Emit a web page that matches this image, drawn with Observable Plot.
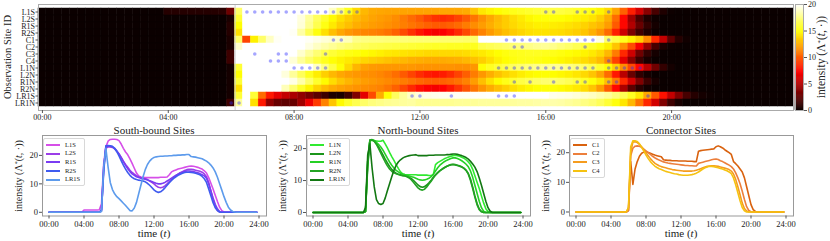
<!DOCTYPE html>
<html><head><meta charset="utf-8">
<script src="https://cdn.jsdelivr.net/npm/d3@7"></script>
<script src="https://cdn.jsdelivr.net/npm/@observablehq/plot@0.6"></script>
<style>
body{margin:0;background:#fff;}
#root{position:relative;width:830px;height:241px;overflow:hidden;font-family:"Liberation Serif","DejaVu Serif",serif;color:#222;}
#root svg{position:absolute;overflow:visible;}
.lbl{position:absolute;white-space:nowrap;line-height:1;}
.legend{position:absolute;background:rgba(255,255,255,0.9);border:1px solid #d8d8d8;border-radius:2px;padding:1.5px 4px 1.5px 2px;box-sizing:border-box;}
.lrow{display:flex;align-items:center;height:8.7px;}
.sw{width:14px;height:2px;}
.lt{margin-left:5px;font-size:6.5px;line-height:1;}
</style></head><body><div id="root"></div><script>
// ---------- data ----------
const sites = ["L1S","L2S","R1S","R2S","C1","C2","C3","C4","L1N","L2N","R1N","R2N","LR1S","LR1N"];
const hourTicks = [0,4,8,12,16,20,24];
const tickLabels = ["00:00","04:00","08:00","12:00","16:00","20:00","24:00"];
const intensityTicks = [0,10,20];
const colorbarTicks = [0,5,10,15,20];
const startLine = [6.125];

const L1S = [0,0,0,0, 0,0,0,0, 0,0,0,0, 0,0,0,0,
 0.8,0.8,0.8,0.8, 0.8,0.8,0.8,0.9,
 3,17,23,25, 25.6,25.7,25.7,25.6, 25.2,24,22.5,21.2, 20.2,18.8,17.2,15.5,
 13.8,12.8,12.4,12.3, 12.2,12.2,12.2,12.2, 12.2,12.2,12.2,12.3, 12.3,12.3,12.4,13.2,
 14.2,14.6,14.9,15.2, 15.4,15.6,15.8,16, 16.2,16.3,16.2,16, 15.8,15.5,15.2,14.6,
 13.8,12.2,10.2,8.2, 6,3.8,1.8,0.6,
 0.1,0,0,0, 0,0,0,0, 0,0,0,0, 0,0,0,0];
const L2S = [0,0,0,0, 0,0,0,0, 0,0,0,0, 0,0,0,0, 0,0,0,0, 0,0,0,0,
 0.5,16,22.5,23, 23,22.8,22.3,21.5, 20.5,19.3,18,16.8, 15.8,14.8,14,13.4,
 12.9,12.5,12.2,12, 11.8,11.5,11,10.5, 10,9.3,8.8,8.6, 8.8,9.3,10,10.8,
 11.6,12.3,12.9,13.4, 13.9,14.3,14.7,15, 15.1,15.1,15,14.8, 14.6,14.4,14.1,13.5,
 12.5,10.5,7.5,4.5, 2,0.6,0.1,0,
 0,0,0,0, 0,0,0,0, 0,0,0,0, 0,0,0,0];
const R1S = [0,0,0,0, 0,0,0,0, 0,0,0,0, 0,0,0,0, 0,0,0,0, 0,0,0,0,
 0.8,15,23.2,23.3, 23.2,23,22.5,21.6, 20.5,19.2,17.8,16.5, 15.3,14.3,13.5,13,
 12.5,12.2,12,11.8, 11.6,11.4,11.1,10.8, 10.5,10.2,10,10, 10.2,10.5,11,11.5,
 12,12.5,13,13.4, 13.8,14.1,14.3,14.5, 14.5,14.4,14.3,14.1, 13.9,13.6,13.2,12.8,
 12,10,7.5,5, 2.8,1.2,0.3,0,
 0,0,0,0, 0,0,0,0, 0,0,0,0, 0,0,0,0];
const R2S = [0,0,0,0, 0,0,0,0, 0,0,0,0, 0,0,0,0, 0,0,0,0, 0,0,0,0,
 0.8,14,23.4,23.5, 23.4,23.2,22.5,21.3, 19.8,18.2,16.6,15.2, 14,13,12.3,11.8,
 11.5,11.3,11.2,11, 10.7,10.2,9.5,8.7, 7.9,7.3,7,7.2, 7.8,8.6,9.5,10.4,
 11.2,11.9,12.5,13, 13.4,13.7,14,14.1, 14.1,14,13.9,13.7, 13.5,13.2,12.6,11.8,
 10.5,8.2,5.8,3.4, 1.6,0.6,0.1,0,
 0,0,0,0, 0,0,0,0, 0,0,0,0, 0,0,0,0];
const C1 = [0,0,0,0, 0,0,0,0, 0,0,0,0, 0,0,0,0, 0,0,0,0, 0,0,0,0,
 0.5,17,9.3,14.5, 17,18.8,19.8,20.2, 20.3,20.1,19.8,19.5, 19.2,19,18.8,18.6,
 17.6,17.5,17.4,17.4, 17.3,17.3,17.3,17.2, 17.2,17.2,17.2,17.1, 17.1,17.1,17,17,
 20.5,20.7,20.8,20.9, 21,21.1,21.2,21.3, 22,22.3,22,21.6, 21,20.5,20,19.4,
 17,16.3,15.5,14.5, 13.5,11.5,8.5,5.5,
 2.5,0.8,0.2,0, 0,0,0,0, 0,0,0,0, 0,0,0,0];
const C2 = [0,0,0,0, 0,0,0,0, 0,0,0,0, 0,0,0,0, 0,0,0,0, 0,0,0,0,
 0.5,19,21.5,22.2, 22.3,22.2,21.8,21.2, 20.6,20,19.4,18.8, 18.3,17.9,17.5,17.2,
 16.9,16.7,16.5,16.4, 16.3,16.2,16.1,16, 15.9,15.8,15.7,15.7, 15.6,15.6,15.5,15.5,
 16.4,16.6,16.8,17, 17.2,17.4,17.6,17.8, 17.9,17.7,17.3,17, 16.6,16.2,15.8,15.3,
 14.5,13.2,11.5,9.5, 7,4.2,1.8,0.5,
 0.1,0,0,0, 0,0,0,0, 0,0,0,0, 0,0,0,0];
const C3 = [0,0,0,0, 0,0,0,0, 0,0,0,0, 0,0,0,0, 0,0,0,0, 0,0,0,0,
 1.5,20,23.6,23.7, 23.4,22.8,22,21, 20,19,18,17.2, 16.5,16,15.6,15.3,
 15.1,14.9,14.7,14.5, 14.3,14.2,14.1,14, 13.9,13.8,13.8,13.8, 13.8,13.8,13.9,14.1,
 14.3,14.6,14.9,15.2, 15.4,15.5,15.6,15.6, 15.5,15.4,15.2,15, 14.8,14.6,14.3,13.8,
 12.8,11,8.5,5.8, 3,1.2,0.3,0,
 0,0,0,0, 0,0,0,0, 0,0,0,0, 0,0,0,0];
const C4 = [0,0,0,0, 0,0,0,0, 0,0,0,0, 0,0,0,0, 0,0,0,0, 0,0,0,0,
 1.5,22,24,24, 23.8,23,21.8,20.5, 19.2,18,17,16.2, 15.5,15,14.6,14.3,
 14,13.7,13.5,13.3, 13.1,12.9,12.8,12.6, 12.5,12.4,12.4,12.4, 12.5,12.6,12.8,13.1,
 13.5,14,14.5,14.9, 15.2,15.4,15.4,15.3, 15.1,14.9,14.7,14.5, 14.2,13.9,13.5,12.9,
 11.5,9.2,6.5,3.8, 1.5,0.4,0,0,
 0,0,0,0, 0,0,0,0, 0,0,0,0, 0,0,0,0];
const L1N = [0,0,0,0, 0,0,0,0, 0,0,0,0, 0,0,0,0, 0,0,0,0, 0,0,0,0,
 0.3,16,22.5,22.6, 22.5,22.4,22.3,22.3, 22.6,21.5,20.2,18.8, 17.5,16.3,15,13.8,
 12.7,12.1,11.9,11.8, 11.8,11.8,11.8,11.8, 11.7,11.7,11.7,11.7, 11.7,11.6,11.6,11.8,
 15,15.6,16,16.4, 16.8,17.1,17.4,17.6, 17.8,17.9,17.8,17.6, 17.3,17,16.5,15.8,
 15,13.5,11.5,9.5, 7.5,5.2,3,1.2,
 0.3,0,0,0, 0,0,0,0, 0,0,0,0, 0,0,0,0];
const L2N = [0,0,0,0, 0,0,0,0, 0,0,0,0, 0,0,0,0, 0,0,0,0, 0,0,0,0,
 0.3,15,22.7,22.8, 22.4,21.6,20.5,19.3, 18,16.7,15.5,14.4, 13.5,12.8,12.3,12,
 11.8,11.6,11.5,11.3, 11,10.6,10,9.3, 8.6,8.1,7.9,8.1, 8.6,9.3,10.1,11,
 11.8,12.5,13.1,13.6, 14,14.4,14.7,14.9, 15,14.9,14.7,14.5, 14.2,13.8,13.2,12.2,
 10.5,8,5.2,2.8, 1.1,0.3,0,0,
 0,0,0,0, 0,0,0,0, 0,0,0,0, 0,0,0,0];
const R1N = [0,0,0,0, 0,0,0,0, 0,0,0,0, 0,0,0,0, 0,0,0,0, 0,0,0,0,
 0.3,16,22.6,22.7, 22.5,22,21.3,20.5, 19.5,18.3,17,15.8, 14.8,13.9,13.2,12.7,
 12.3,12,11.8,11.6, 11.4,11.2,11,10.7, 10.4,10.2,10.1,10.2, 10.4,10.7,11.2,12,
 13,14,14.8,15.4, 15.9,16.3,16.6,16.9, 17.1,17.1,16.9,16.6, 16.2,15.7,15.1,14.3,
 13,11,8.5,6, 3.5,1.5,0.4,0,
 0,0,0,0, 0,0,0,0, 0,0,0,0, 0,0,0,0];
const R2N = [0,0,0,0, 0,0,0,0, 0,0,0,0, 0,0,0,0, 0,0,0,0, 0,0,0,0,
 0.3,14,22.6,22.7, 22.3,21.3,20,18.6, 17.2,15.8,14.6,13.6, 12.9,12.4,12.1,11.9,
 11.7,11.5,11.4,11.2, 10.8,10.2,9.4,8.5, 7.7,7.2,7,7.3, 8,8.9,9.8,10.8,
 11.7,12.4,13,13.5, 14,14.4,14.7,15, 15.1,15,14.8,14.6, 14.3,13.9,13.2,12,
 10,7.5,4.8,2.4, 0.9,0.2,0,0,
 0,0,0,0, 0,0,0,0, 0,0,0,0, 0,0,0,0];
const LR1S = [0,0,0,0, 0,0,0,0, 0,0,0,0, 0,0,0,0, 0,0,0,0, 0,0,0,0,
 0.3,16,22.5,16, 10.5,8,6.5,5.5, 4.8,4,3.2,2.4, 1.5,0.6,0.5,1.5,
 3.5,6.5,9.5,12.5, 15,16.8,18,18.8, 19.3,19.5,19.6,19.7, 19.7,19.8,19.8,19.9,
 19.9,20,20,20.1, 20.1,20.2,20.2,20.3, 20.3,19.6,19.5,19.4, 19.2,19,18.8,18.4,
 18,17.4,16.6,15.6, 14.2,12.3,10,7.8,
 5.5,3.5,1.8,0.8, 0.3,0.1,0,0, 0,0,0,0, 0,0,0,0];
const LR1N = [0,0,0,0, 0,0,0,0, 0,0,0,0, 0,0,0,0, 0,0,0,0, 0,0,0,0,
 1.5,18,21.5,14, 8,4,2.8,2.5, 2.8,4.5,6.8,9, 11.2,13.2,14.8,15.8,
 16.5,17,17.4,17.6, 17.8,17.9,18,18.1, 17.8,17.8,17.8,17.8, 17.8,17.9,17.9,17.9,
 18,18,18,18, 18,18.1,18.1,18.2, 18.3,18.3,18.2,18, 17.8,17.5,17.2,16.7,
 16,15.2,14.2,12.8, 10.8,8.5,6,3.5,
 1.5,0.4,0,0, 0,0,0,0, 0,0,0,0, 0,0,0,0];

// observation markers: site and 15-minute bin indices
const markerSites = ["L1S","C1","C2","C3","C4","L1N","R1N","LR1S","LR1N"];
const markerBins = [
 [26,27,28,29,30,31,32,33,34,35,36,37,38,39,40,64,65,68,69,70,72],
 [37,38,59,60,61,62,63,64,65,66,67,68,69,70,72],
 [60,61,69],
 [27,30,31,36],
 [29,30,31,72],
 [32,33,34,35,36,58,59,60,61,62,63,64,65,66,67,68,69,70,72,73,74,75,76],
 [60,62,65,68,69,72,73],
 [47,48,52,58,59,60,77],
 [24,25]
];

const series = {L1S,L2S,R1S,R2S,C1,C2,C3,C4,L1N,L2N,R1N,R2N,LR1S,LR1N};
const binHours = 0.25;
const times = L1S.map((_, i) => i * binHours);

const groups = [
 {title:"South-bound Sites", keys:["L1S","L2S","R1S","R2S","LR1S"],
  colors:["#d64fe8","#9b3ee8","#7a3cf2","#3f5bef","#5d9bec"], ydomain:[-1.3,27]},
 {title:"North-bound Sites", keys:["L1N","L2N","R1N","R2N","LR1N"],
  colors:["#30ea30","#1b951b","#25d025","#22a322","#127812"], ydomain:[-1.1,24.1]},
 {title:"Connector Sites", keys:["C1","C2","C3","C4"],
  colors:["#d9620f","#ec7f3c","#f59c1f","#f5c211"], ydomain:[-1.35,25.8]}
];

// ---------- helpers ----------
const FONT = '"Liberation Serif","DejaVu Serif",serif';
const vmax = 20;
function hot(t) {
  t = Math.max(0, Math.min(1, t));
  const r = 0.0416 + 0.9584 * Math.min(1, t / 0.365079);
  const g = Math.max(0, Math.min(1, (t - 0.365079) / (0.746032 - 0.365079)));
  const b = Math.max(0, Math.min(1, (t - 0.746032) / (1 - 0.746032)));
  return d3.rgb(r * 255, g * 255, b * 255).formatHex();
}
const fmtHour = d => tickLabels[hourTicks.indexOf(d)];
const root = document.getElementById("root");
function place(el, left, top) { el.style.left = left + "px"; el.style.top = top + "px"; root.appendChild(el); }
function label(html, cx, cy, size, rotate) {
  const d = document.createElement("div");
  d.className = "lbl";
  d.innerHTML = html;
  d.style.fontSize = size + "px";
  d.style.left = cx + "px"; d.style.top = cy + "px";
  d.style.transform = "translate(-50%,-50%)" + (rotate ? " rotate(-90deg)" : "");
  root.appendChild(d);
}
const intensityLabel = 'intensity (Λ<sup style="font-size:0.6em;vertical-align:0.5em">*</sup>(<i>t</i>, ·))';

// ---------- heatmap ----------
const cells = sites.flatMap(s => series[s].map((v, i) => ({site: s, t: times[i], v})));
const markers = markerSites.flatMap((s, j) => markerBins[j].map(b => ({site: s, t: times[b]})));
const half = binHours / 2;

const heat = Plot.plot({
  width: 800, height: 122, marginLeft: 38, marginRight: 7, marginTop: 4, marginBottom: 12,
  style: {fontFamily: FONT, background: "transparent", color: "#222"},
  x: {domain: [-half, 24 - half]},
  y: {domain: sites, padding: 0},
  marks: [
    Plot.barX(cells, {x1: d => d.t - half, x2: d => d.t + half, y: "site",
      fill: d => hot(d.v / vmax), stroke: d => hot(d.v / vmax), strokeWidth: 0.5}),
    Plot.ruleX(startLine, {stroke: "#d0d0d0", strokeWidth: 1}),
    Plot.dot(markers, {x: "t", y: "site", r: 1.8, fill: "#2a2aff", fillOpacity: 0.42}),
    Plot.frame({stroke: "#aaa"}),
    Plot.axisX({ticks: hourTicks.slice(0, 6), tickFormat: fmtHour, tickSize: 3, tickPadding: 1, fontSize: 8, label: null, stroke: "#555"}),
    Plot.axisY({tickSize: 2.5, tickPadding: 1, fontSize: 8, label: null, stroke: "#555"})
  ]
});
place(heat, 0, 0);
label("Observation Site ID", 8, 57, 10.5, true);

// ---------- colorbar ----------
const cbSteps = d3.range(0, vmax, 0.2);
const cbar = Plot.plot({
  width: 35, height: 122, marginLeft: 0, marginRight: 27, marginTop: 4, marginBottom: 12,
  style: {fontFamily: FONT, background: "transparent", color: "#222"},
  x: {domain: [0, 1], axis: null},
  y: {domain: [0, vmax]},
  marks: [
    Plot.rect(cbSteps, {x1: 0, x2: 1, y1: d => d, y2: d => d + 0.2,
      fill: d => hot((d + 0.1) / vmax), stroke: d => hot((d + 0.1) / vmax), strokeWidth: 0.5}),
    Plot.frame({stroke: "#aaa"}),
    Plot.axisY({anchor: "right", ticks: colorbarTicks, tickSize: 3, tickPadding: 1.5, fontSize: 8, label: null, stroke: "#555"})
  ]
});
place(cbar, 795, 0);
label(intensityLabel, 822, 57, 11.5, true);

// ---------- line panels ----------
const frameLefts = [42, 306, 569];
groups.forEach((g, gi) => {
  const data = g.keys.flatMap(k => series[k].map((v, i) => ({k, t: times[i], v})));
  const p = Plot.plot({
    width: 275, height: 119, marginLeft: 42, marginRight: 9, marginTop: 13, marginBottom: 25.5,
    style: {fontFamily: FONT, background: "transparent", color: "#222"},
    x: {domain: [-0.743, 24.857]},
    y: {domain: g.ydomain},
    color: {domain: g.keys, range: g.colors},
    marks: [
      Plot.frame({stroke: "#999"}),
      Plot.axisX({ticks: hourTicks, tickFormat: fmtHour, tickSize: 3, tickPadding: 1.5, fontSize: 8.5, label: null, stroke: "#555"}),
      Plot.axisY({ticks: intensityTicks, tickSize: 3, tickPadding: 1.5, fontSize: 8.5, label: null, stroke: "#555"}),
      Plot.line(data, {x: "t", y: "v", z: "k", stroke: "k", strokeWidth: 1.6})
    ]
  });
  const fl = frameLefts[gi];
  place(p, fl - 42, 122);
  const cx = fl + 112;
  label(g.title, cx, 130, 11, false);
  label("time (<i>t</i>)", cx, 233, 11, false);
  label(intensityLabel, fl - 23, 176, 10, true);
  // legend
  const lg = document.createElement("div");
  lg.className = "legend";
  g.keys.forEach((k, i) => {
    const row = document.createElement("div");
    row.className = "lrow";
    row.innerHTML = `<div class="sw" style="background:${g.colors[i]}"></div><div class="lt">${k}</div>`;
    lg.appendChild(row);
  });
  place(lg, fl + 1, 138);
});
</script></body></html>
